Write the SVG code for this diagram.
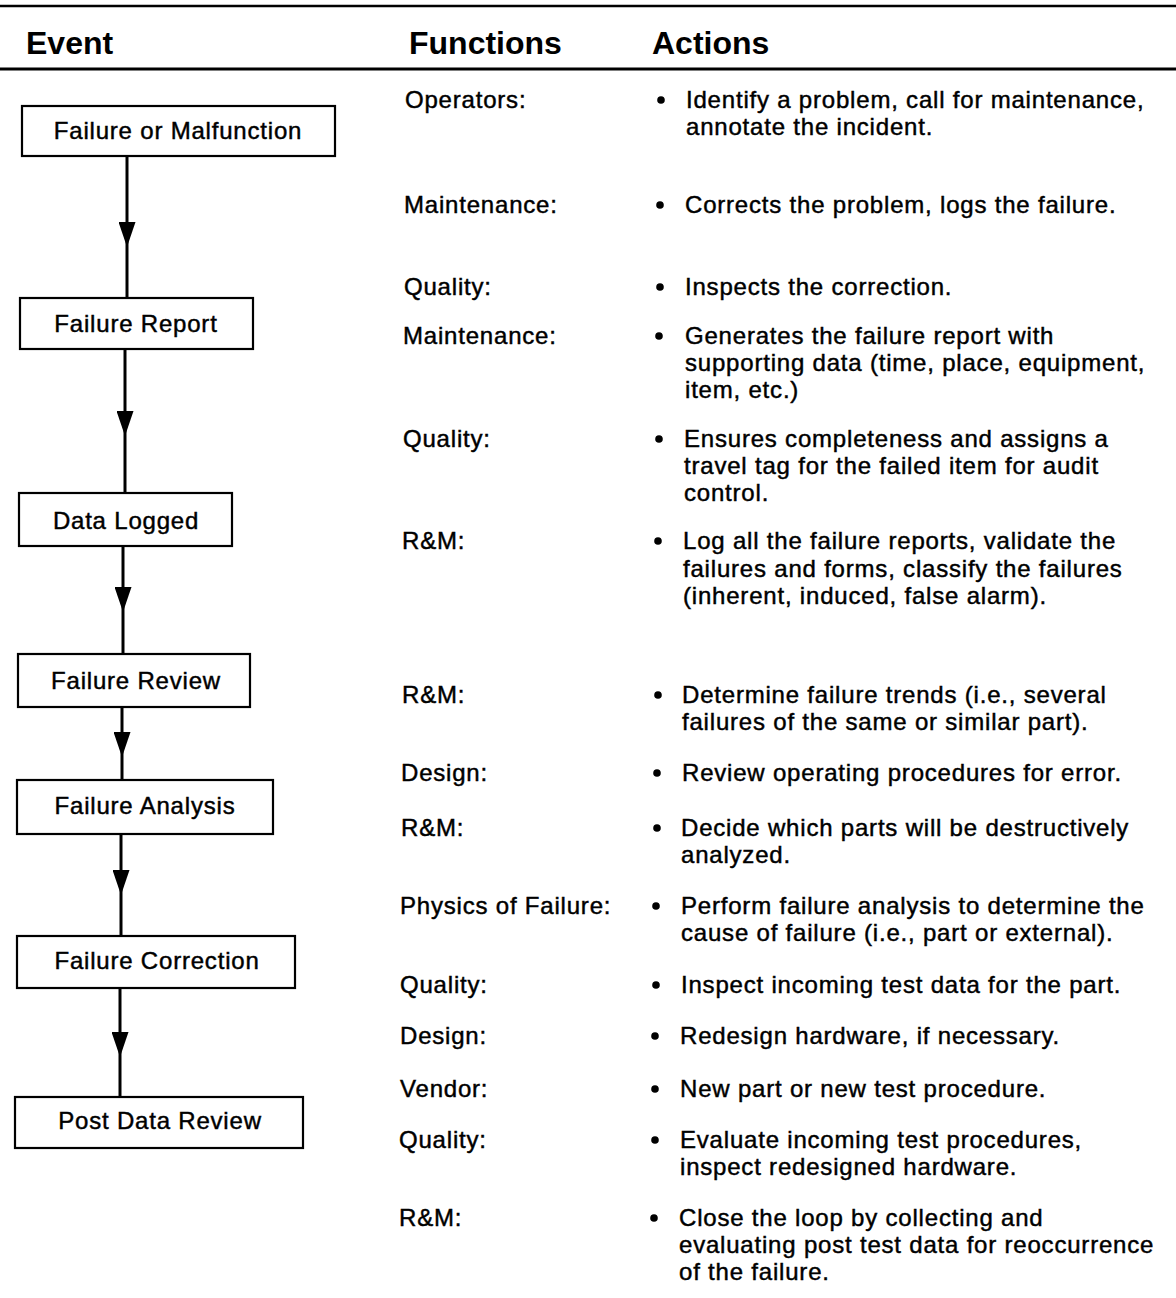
<svg xmlns="http://www.w3.org/2000/svg" width="1176" height="1298" viewBox="0 0 1176 1298">
<style>
.hd{font-family:"Liberation Sans",Arial,sans-serif;font-weight:bold;font-size:32px;fill:#000}
.bx{fill:#fff;stroke:#000;stroke-width:2.2}
.bt{font-family:"Liberation Sans",Arial,sans-serif;font-size:24px;letter-spacing:0.8px;fill:#000;stroke:#000;stroke-width:0.45;text-anchor:middle}
.fn{font-family:"Liberation Sans",Arial,sans-serif;font-size:24px;letter-spacing:0.8px;fill:#000;stroke:#000;stroke-width:0.45}
.ac{font-family:"Liberation Sans",Arial,sans-serif;font-size:24px;letter-spacing:0.8px;fill:#000;stroke:#000;stroke-width:0.45}
.bu{fill:#000}
.cn{stroke:#000;stroke-width:3;fill:none;marker-mid:url(#ah)}
</style>
<defs>
<marker id="ah" markerUnits="userSpaceOnUse" viewBox="0 0 25 17" markerWidth="25" markerHeight="17" refX="25" refY="8.5" orient="auto">
<path d="M0,0 L25,8.5 L0,17 Z" fill="#000"/>
</marker>
</defs>
<rect width="1176" height="1298" fill="#fff"/>
<g id="header">
<line x1="0" y1="6" x2="1176" y2="6" stroke="#000" stroke-width="2.5"/>
<line x1="0" y1="69" x2="1176" y2="69" stroke="#000" stroke-width="3"/>
<text class="hd" x="26" y="54">Event</text>
<text class="hd" x="409" y="54">Functions</text>
<text class="hd" x="652" y="54">Actions</text>
</g>
<g id="connectors">
<path class="cn" d="M127,156 L127,247 L127,298"/>
<path class="cn" d="M125,349 L125,436 L125,493"/>
<path class="cn" d="M123,546 L123,612 L123,654"/>
<path class="cn" d="M122,707 L122,757 L122,780"/>
<path class="cn" d="M121,834 L121,895 L121,936"/>
<path class="cn" d="M120,988 L120,1057 L120,1097"/>
</g>
<g id="n1"><rect class="bx" x="22" y="106" width="313" height="50"/><text class="bt" x="178" y="139">Failure or Malfunction</text></g>
<g id="n2"><rect class="bx" x="20" y="298" width="233" height="51"/><text class="bt" x="136" y="332">Failure Report</text></g>
<g id="n3"><rect class="bx" x="19" y="493" width="213" height="53"/><text class="bt" x="126" y="529">Data Logged</text></g>
<g id="n4"><rect class="bx" x="18" y="654" width="232" height="53"/><text class="bt" x="136" y="689">Failure Review</text></g>
<g id="n5"><rect class="bx" x="17" y="780" width="256" height="54"/><text class="bt" x="145" y="814">Failure Analysis</text></g>
<g id="n6"><rect class="bx" x="17" y="936" width="278" height="52"/><text class="bt" x="157" y="969">Failure Correction</text></g>
<g id="n7"><rect class="bx" x="15" y="1097" width="288" height="51"/><text class="bt" x="160" y="1129">Post Data Review</text></g>
<g id="functions">
<text class="fn" x="405" y="108">Operators:</text>
<text class="fn" x="404" y="213">Maintenance:</text>
<text class="fn" x="404" y="295">Quality:</text>
<text class="fn" x="403" y="344">Maintenance:</text>
<text class="fn" x="403" y="447">Quality:</text>
<text class="fn" x="402" y="549">R&amp;M:</text>
<text class="fn" x="402" y="703">R&amp;M:</text>
<text class="fn" x="401" y="781">Design:</text>
<text class="fn" x="401" y="836">R&amp;M:</text>
<text class="fn" x="400" y="914">Physics of Failure:</text>
<text class="fn" x="400" y="993">Quality:</text>
<text class="fn" x="400" y="1044">Design:</text>
<text class="fn" x="400" y="1097">Vendor:</text>
<text class="fn" x="399" y="1148">Quality:</text>
<text class="fn" x="399" y="1226">R&amp;M:</text>
</g>
<g id="bullets">
<circle class="bu" cx="661" cy="100" r="3.8"/>
<circle class="bu" cx="660" cy="205" r="3.8"/>
<circle class="bu" cx="660" cy="287" r="3.8"/>
<circle class="bu" cx="659" cy="336" r="3.8"/>
<circle class="bu" cx="659" cy="439" r="3.8"/>
<circle class="bu" cx="658" cy="541" r="3.8"/>
<circle class="bu" cx="658" cy="695" r="3.8"/>
<circle class="bu" cx="657" cy="773" r="3.8"/>
<circle class="bu" cx="657" cy="828" r="3.8"/>
<circle class="bu" cx="656" cy="906" r="3.8"/>
<circle class="bu" cx="656" cy="985" r="3.8"/>
<circle class="bu" cx="655" cy="1036" r="3.8"/>
<circle class="bu" cx="655" cy="1089" r="3.8"/>
<circle class="bu" cx="655" cy="1140" r="3.8"/>
<circle class="bu" cx="654" cy="1218" r="3.8"/>
</g>
<g id="actions">
<text class="ac" x="686" y="108">Identify a problem, call for maintenance,</text>
<text class="ac" x="686" y="135">annotate the incident.</text>
<text class="ac" x="685" y="213">Corrects the problem, logs the failure.</text>
<text class="ac" x="685" y="295">Inspects the correction.</text>
<text class="ac" x="685" y="344">Generates the failure report with</text>
<text class="ac" x="685" y="371">supporting data (time, place, equipment,</text>
<text class="ac" x="685" y="398">item, etc.)</text>
<text class="ac" x="684" y="447">Ensures completeness and assigns a</text>
<text class="ac" x="684" y="474">travel tag for the failed item for audit</text>
<text class="ac" x="684" y="501">control.</text>
<text class="ac" x="683" y="549">Log all the failure reports, validate the</text>
<text class="ac" x="683" y="577">failures and forms, classify the failures</text>
<text class="ac" x="683" y="604">(inherent, induced, false alarm).</text>
<text class="ac" x="682" y="703">Determine failure trends (i.e., several</text>
<text class="ac" x="682" y="730">failures of the same or similar part).</text>
<text class="ac" x="682" y="781">Review operating procedures for error.</text>
<text class="ac" x="681" y="836">Decide which parts will be destructively</text>
<text class="ac" x="681" y="863">analyzed.</text>
<text class="ac" x="681" y="914">Perform failure analysis to determine the</text>
<text class="ac" x="681" y="941">cause of failure (i.e., part or external).</text>
<text class="ac" x="681" y="993">Inspect incoming test data for the part.</text>
<text class="ac" x="680" y="1044">Redesign hardware, if necessary.</text>
<text class="ac" x="680" y="1097">New part or new test procedure.</text>
<text class="ac" x="680" y="1148">Evaluate incoming test procedures,</text>
<text class="ac" x="680" y="1175">inspect redesigned hardware.</text>
<text class="ac" x="679" y="1226">Close the loop by collecting and</text>
<text class="ac" x="679" y="1253">evaluating post test data for reoccurrence</text>
<text class="ac" x="679" y="1280">of the failure.</text>
</g>
</svg>
